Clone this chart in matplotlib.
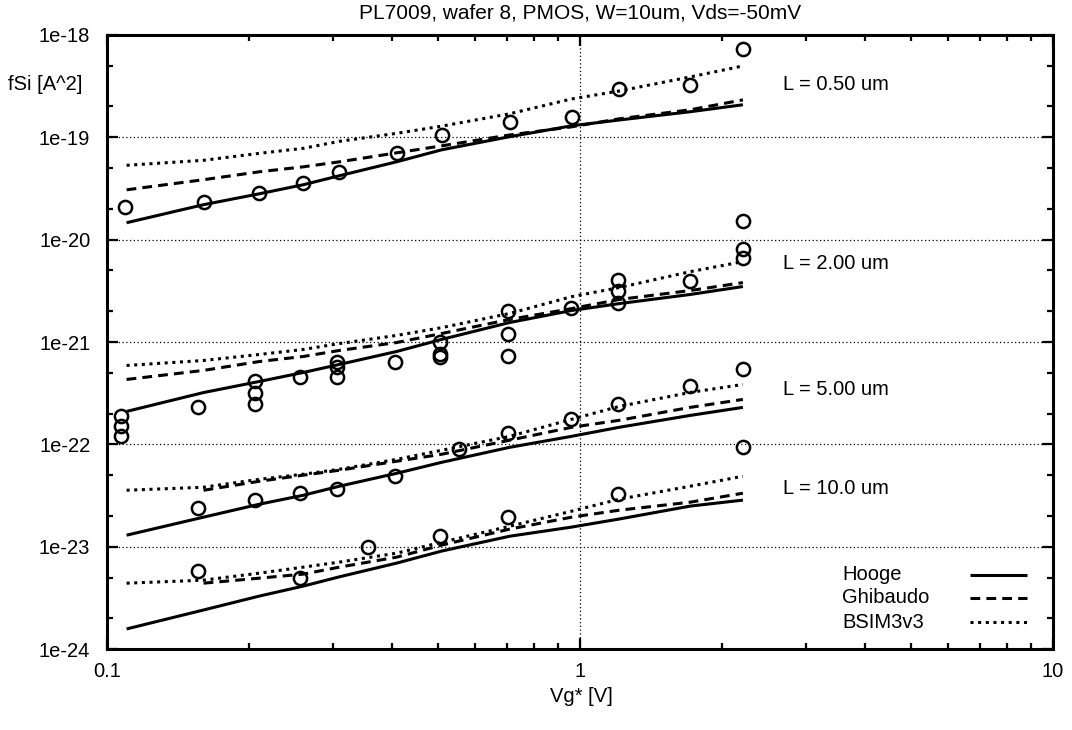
import numpy as np
import matplotlib
matplotlib.use("Agg")
import matplotlib.pyplot as plt
from matplotlib.ticker import LogLocator, FixedLocator, FixedFormatter, NullFormatter

plt.rcParams['font.family'] = ['Liberation Sans', 'DejaVu Sans']

# Gate overdrive grid for the model curves [V]
vg_model = [0.11, 0.16, 0.21, 0.26, 0.31, 0.41, 0.51, 0.71, 0.96, 1.21, 1.71, 2.21]

# Hooge model, fSi [A^2]
hooge_L05 = [1.46e-20, 2.19e-20, 2.80e-20, 3.43e-20, 4.20e-20, 5.75e-20, 7.52e-20, 1.01e-19, 1.29e-19, 1.47e-19, 1.77e-19, 2.07e-19]
hooge_L2 = [2.10e-22, 3.21e-22, 4.12e-22, 5.04e-22, 6.04e-22, 8.09e-22, 1.06e-21, 1.55e-21, 2.03e-21, 2.37e-21, 2.91e-21, 3.48e-21]
hooge_L5 = [1.30e-23, 1.95e-23, 2.61e-23, 3.19e-23, 3.91e-23, 5.23e-23, 6.69e-23, 9.37e-23, 1.20e-22, 1.47e-22, 1.92e-22, 2.30e-22]
hooge_L10 = [1.58e-24, 2.42e-24, 3.31e-24, 4.14e-24, 5.10e-24, 6.95e-24, 9.10e-24, 1.27e-23, 1.56e-23, 1.87e-23, 2.50e-23, 2.86e-23]

# Ghibaudo model
ghib_L05 = [3.06e-20, 3.84e-20, 4.59e-20, 5.13e-20, 5.74e-20, 7.03e-20, 8.22e-20, 1.05e-19, 1.26e-19, 1.51e-19, 1.85e-19, 2.31e-19]
ghib_L2 = [4.31e-22, 5.28e-22, 6.45e-22, 7.22e-22, 8.27e-22, 9.89e-22, 1.21e-21, 1.66e-21, 2.12e-21, 2.60e-21, 3.18e-21, 3.80e-21]
ghib_L5 = [np.nan, 3.57e-23, 4.37e-23, 5.01e-23, 5.60e-23, 6.86e-23, 8.02e-23, 1.10e-22, 1.47e-22, 1.72e-22, 2.30e-22, 2.75e-22]
ghib_L10 = [np.nan, 4.42e-24, 4.95e-24, 5.42e-24, 6.34e-24, 7.94e-24, 1.04e-23, 1.49e-23, 1.95e-23, 2.28e-23, 2.73e-23, 3.34e-23]

# BSIM3v3 model
bsim_L05 = [5.31e-20, 5.94e-20, 6.95e-20, 7.78e-20, 9.10e-20, 1.09e-19, 1.28e-19, 1.69e-19, 2.36e-19, 2.82e-19, 3.87e-19, 4.95e-19]
bsim_L2 = [5.90e-22, 6.60e-22, 7.56e-22, 8.45e-22, 9.66e-22, 1.16e-21, 1.38e-21, 1.90e-21, 2.77e-21, 3.40e-21, 4.86e-21, 6.09e-21]
bsim_L5 = [3.57e-23, 3.82e-23, 4.57e-23, 5.12e-23, 5.72e-23, 7.16e-23, 8.77e-23, 1.20e-22, 1.76e-22, 2.35e-22, 3.22e-22, 3.85e-22]
bsim_L10 = [4.42e-24, 4.73e-24, 5.54e-24, 6.34e-24, 7.10e-24, 8.69e-24, 1.11e-23, 1.59e-23, 2.23e-23, 2.92e-23, 3.91e-23, 4.89e-23]

# Measured noise
meas_vg_L05 = [0.109, 0.16, 0.21, 0.26, 0.31, 0.41, 0.51, 0.71, 0.96, 1.21, 1.71, 2.21]
meas_fsi_L05 = [2.09e-20, 2.34e-20, 2.83e-20, 3.59e-20, 4.60e-20, 7.00e-20, 1.05e-19, 1.41e-19, 1.58e-19, 2.96e-19, 3.24e-19, 7.26e-19]

meas_vg_L2 = [0.107, 0.107, 0.107, 0.156, 0.206, 0.206, 0.206, 0.256, 0.306, 0.306, 0.306,
              0.406, 0.506, 0.506, 0.506, 0.706, 0.706, 0.706, 0.956, 1.206, 1.206, 1.206,
              1.706, 2.206, 2.206, 2.206]
meas_fsi_L2 = [1.88e-22, 1.50e-22, 1.20e-22, 2.30e-22, 4.12e-22, 3.15e-22, 2.46e-22, 4.51e-22,
               6.31e-22, 5.64e-22, 4.51e-22, 6.31e-22, 1.01e-21, 7.56e-22, 7.06e-22, 1.99e-21,
               1.21e-21, 7.23e-22, 2.17e-21, 4.06e-21, 3.17e-21, 2.43e-21, 3.98e-21, 1.53e-20,
               8.17e-21, 6.67e-21]

meas_vg_L5 = [0.156, 0.206, 0.256, 0.306, 0.406, 0.556, 0.706, 0.956, 1.206, 1.706, 2.206, 2.206]
meas_fsi_L5 = [2.42e-23, 2.85e-23, 3.39e-23, 3.71e-23, 4.92e-23, 8.96e-23, 1.28e-22, 1.78e-22,
               2.46e-22, 3.71e-22, 5.48e-22, 9.53e-23]

meas_vg_L10 = [0.156, 0.256, 0.356, 0.506, 0.706, 1.206]
meas_fsi_L10 = [5.83e-24, 4.92e-24, 1.00e-23, 1.28e-23, 1.96e-23, 3.27e-23]

# Channel length labels and their anchor positions
length_labels = ["L = 0.50 um", "L = 2.00 um", "L = 5.00 um", "L = 10.0 um"]
length_label_y = [3.3e-19, 5.8e-21, 3.4e-22, 3.7e-23]

model_names = ["Hooge", "Ghibaudo", "BSIM3v3"]
ytick_vals = [1e-18, 1e-19, 1e-20, 1e-21, 1e-22, 1e-23, 1e-24]
ytick_text = ["1e-18", "1e-19", "1e-20", "1e-21", "1e-22", "1e-23", "1e-24"]
xtick_vals = [0.1, 1, 10]
xtick_text = ["0.1", "1", "10"]

FS = 14.5
LW = 2.2
styles = {
    "Hooge": dict(linestyle="-"),
    "Ghibaudo": dict(linestyle=(0, (3.2, 2.0))),
    "BSIM3v3": dict(linestyle=(0, (1.0, 1.5))),
}

fig = plt.figure(figsize=(10.72, 7.30), dpi=100)
ax = fig.add_axes([107 / 1072, 1 - 649.3 / 730, (1053 - 107) / 1072, (649.3 - 34.7) / 730])
ax.set_xscale("log")
ax.set_yscale("log")
ax.set_xlim(0.1, 10)
ax.set_ylim(1e-24, 1e-18)

model_sets = [
    (hooge_L05, ghib_L05, bsim_L05),
    (hooge_L2, ghib_L2, bsim_L2),
    (hooge_L5, ghib_L5, bsim_L5),
    (hooge_L10, ghib_L10, bsim_L10),
]
for hooge, ghib, bsim in model_sets:
    for name, vals in zip(model_names, (hooge, ghib, bsim)):
        ax.plot(vg_model, vals, color="black", lw=LW, dash_capstyle="butt",
                solid_capstyle="butt", **styles[name])

meas_sets = [(meas_vg_L05, meas_fsi_L05), (meas_vg_L2, meas_fsi_L2),
             (meas_vg_L5, meas_fsi_L5), (meas_vg_L10, meas_fsi_L10)]
for vg, fsi in meas_sets:
    ax.plot(vg, fsi, linestyle="none", marker="o", markersize=9.5,
            markerfacecolor="none", markeredgecolor="black", markeredgewidth=1.8)

for text, yv in zip(length_labels, length_label_y):
    ax.text(2.69, yv, text, fontsize=FS, ha="left", va="center")

# Ticks and grid
ax.xaxis.set_major_locator(FixedLocator(xtick_vals))
ax.xaxis.set_major_formatter(FixedFormatter(xtick_text))
ax.xaxis.set_minor_locator(LogLocator(base=10, subs=np.arange(2, 10)))
ax.xaxis.set_minor_formatter(NullFormatter())
ax.yaxis.set_major_locator(FixedLocator(ytick_vals))
ax.yaxis.set_major_formatter(FixedFormatter(ytick_text))
ax.yaxis.set_minor_locator(LogLocator(base=10, subs=(2.0, 5.0)))
ax.yaxis.set_minor_formatter(NullFormatter())
ax.tick_params(which="both", direction="in", top=True, right=True, labelsize=FS, width=1.6)
ax.tick_params(which="major", length=8)
ax.tick_params(axis="y", which="major", pad=12)
ax.tick_params(axis="x", which="major", pad=9)
ax.tick_params(which="minor", length=4)
ax.grid(True, which="major", color="black", linestyle=(0, (1, 2)), linewidth=0.9)
for sp in ax.spines.values():
    sp.set_linewidth(2.2)

# Legend drawn with labels on the left and line samples on the right
leg_y = [0.121, 0.0835, 0.0444]
for name, yy in zip(model_names, leg_y):
    ax.text(0.777, yy, name, transform=ax.transAxes, fontsize=FS, ha="left", va="center")
    ax.plot([0.912, 0.9725], [yy, yy], transform=ax.transAxes, color="black", lw=LW,
            dash_capstyle="butt", solid_capstyle="butt", **styles[name])

fig.text(0.5 * (107 + 1053) / 1072, 1 - 13 / 730, "PL7009, wafer 8, PMOS, W=10um, Vds=-50mV",
         fontsize=15, ha="center", va="center")
fig.text(8 / 1072, 1 - 84 / 730, "fSi [A^2]", fontsize=FS, ha="left", va="center")
fig.text(581 / 1072, 1 - 697 / 730, "Vg* [V]", fontsize=FS, ha="center", va="center")

fig.savefig("out.png", dpi=100)
